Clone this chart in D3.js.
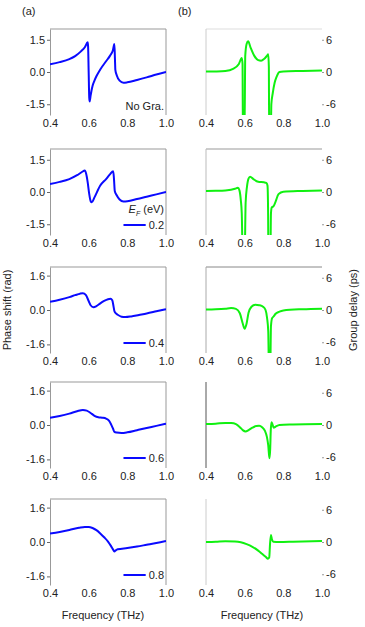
<!DOCTYPE html>
<html><head><meta charset="utf-8">
<script src="https://cdn.jsdelivr.net/npm/d3@7"></script>
<style>
html,body{margin:0;padding:0;background:#fff;}
svg{display:block;font-family:"Liberation Sans",Arial,sans-serif;}
</style></head>
<body><svg id="chart" width="365" height="627"></svg>
<script>
// ---------- data ----------
const xTicks = [0.4, 0.6, 0.8, 1.0];
const phaseTicksA = [-1.5, 0, 1.5];
const phaseTicksB = [-1.6, 0, 1.6];
const delayTicks = [-6, 0, 6];
const legendLabels = ["No Gra.", "0.2", "0.4", "0.6", "0.8"];

const phaseNoGra = [[0.40,0.36],[0.45,0.46],[0.50,0.60],[0.53,0.74],[0.56,0.96],[0.58,1.15],[0.595,1.38],[0.597,1.2],[0.600,0.0],[0.603,-1.2],[0.605,-1.37],[0.61,-1.1],[0.615,-0.85],[0.62,-0.65],[0.63,-0.4],[0.64,-0.2],[0.66,0.12],[0.69,0.5],[0.71,0.75],[0.725,1.0],[0.733,1.3],[0.736,0.6],[0.738,0.1],[0.745,-0.15],[0.76,-0.4],[0.78,-0.5],[0.80,-0.48],[0.85,-0.37],[0.90,-0.25],[0.95,-0.12],[1.00,0.0]];
const phase02 = [[0.40,0.375],[0.45,0.47],[0.50,0.60],[0.54,0.78],[0.565,0.93],[0.58,1.0],[0.587,0.85],[0.595,0.45],[0.603,-0.1],[0.61,-0.42],[0.616,-0.48],[0.63,-0.25],[0.66,0.3],[0.69,0.6],[0.71,0.82],[0.727,0.97],[0.731,0.6],[0.735,0.05],[0.745,-0.15],[0.76,-0.35],[0.78,-0.44],[0.80,-0.43],[0.85,-0.33],[0.90,-0.22],[0.95,-0.11],[1.00,0.0]];
const phase04 = [[0.40,0.385],[0.45,0.48],[0.50,0.60],[0.53,0.69],[0.555,0.76],[0.57,0.78],[0.585,0.70],[0.60,0.42],[0.61,0.22],[0.625,0.13],[0.64,0.18],[0.66,0.31],[0.68,0.42],[0.70,0.50],[0.713,0.52],[0.722,0.45],[0.728,0.2],[0.733,-0.05],[0.74,-0.15],[0.75,-0.22],[0.77,-0.31],[0.79,-0.33],[0.82,-0.30],[0.86,-0.23],[0.90,-0.16],[0.95,-0.06],[1.00,0.04]];
const phase06 = [[0.40,0.34],[0.45,0.42],[0.50,0.53],[0.54,0.64],[0.57,0.70],[0.59,0.67],[0.61,0.56],[0.63,0.43],[0.65,0.36],[0.67,0.34],[0.69,0.30],[0.705,0.20],[0.715,0.05],[0.725,-0.15],[0.733,-0.32],[0.745,-0.35],[0.77,-0.37],[0.80,-0.34],[0.85,-0.24],[0.90,-0.14],[0.95,-0.04],[1.00,0.06]];
const phase08 = [[0.40,0.39],[0.45,0.47],[0.50,0.56],[0.55,0.66],[0.58,0.70],[0.60,0.70],[0.62,0.65],[0.64,0.55],[0.66,0.40],[0.68,0.22],[0.70,0.02],[0.715,-0.18],[0.725,-0.33],[0.733,-0.44],[0.74,-0.39],[0.75,-0.34],[0.80,-0.28],[0.85,-0.21],[0.90,-0.13],[0.95,-0.05],[1.00,0.05]];

const delayNoGra = [[0.40,0.07],[0.45,0.1],[0.50,0.2],[0.54,0.6],[0.57,1.5],[0.585,2.6],[0.589,1.5],[0.591,-12],[0.599,-12],[0.603,3.0],[0.610,5.2],[0.618,5.7],[0.63,4.6],[0.65,3.0],[0.67,2.2],[0.685,2.1],[0.70,2.4],[0.715,3.0],[0.722,3.3],[0.725,1],[0.727,-12],[0.735,-12],[0.738,-6],[0.745,-4],[0.755,-2],[0.765,-0.9],[0.78,0.0],[0.80,0.1],[0.90,0.2],[1.00,0.3]];
const delay02 = [[0.40,0.19],[0.45,0.22],[0.50,0.3],[0.55,0.6],[0.565,0.8],[0.573,0.3],[0.580,-1.5],[0.585,-4],[0.590,-12],[0.600,-12],[0.605,-2],[0.612,1.0],[0.62,2.5],[0.628,2.85],[0.645,2.4],[0.67,1.9],[0.70,1.8],[0.712,1.7],[0.718,1.2],[0.721,-3],[0.723,-12],[0.733,-12],[0.736,-4],[0.74,-2.9],[0.75,-2.6],[0.76,-1.8],[0.775,-0.4],[0.80,0.05],[0.90,0.2],[1.00,0.3]];
const delay04 = [[0.40,0.1],[0.45,0.15],[0.50,0.25],[0.53,0.35],[0.555,0.2],[0.575,-0.6],[0.59,-2.5],[0.60,-3.5],[0.61,-2.5],[0.62,-0.5],[0.635,0.6],[0.655,1.0],[0.675,0.9],[0.695,0.6],[0.708,0],[0.716,-1.5],[0.722,-4],[0.726,-12],[0.732,-12],[0.736,-3],[0.742,-1.5],[0.75,-1.2],[0.76,-0.7],[0.78,-0.3],[0.80,-0.1],[0.90,0.15],[1.00,0.25]];
const delay06 = [[0.40,0.19],[0.45,0.25],[0.50,0.38],[0.53,0.35],[0.555,0.15],[0.575,-0.4],[0.59,-0.95],[0.605,-1.2],[0.62,-0.95],[0.64,-0.5],[0.66,-0.2],[0.675,-0.15],[0.69,-0.4],[0.705,-1.1],[0.715,-2.2],[0.722,-3.8],[0.728,-6.2],[0.732,-4.5],[0.735,-1],[0.739,0.5],[0.743,0.2],[0.75,-0.5],[0.76,-0.3],[0.78,0.0],[0.85,0.1],[1.00,0.19]];
const delay08 = [[0.40,0.0],[0.45,0.05],[0.50,0.15],[0.55,0.1],[0.58,-0.05],[0.61,-0.4],[0.64,-0.9],[0.67,-1.6],[0.69,-2.2],[0.71,-2.8],[0.72,-3.1],[0.727,-2.9],[0.731,-0.5],[0.736,1.3],[0.741,0.5],[0.748,0.06],[0.78,0.0],[0.85,0.05],[1.00,0.19]];

const phaseSeries = [phaseNoGra, phase02, phase04, phase06, phase08];
const delaySeries = [delayNoGra, delay02, delay04, delay06, delay08];

// ---------- layout / style ----------
const rowTops = [29, 149, 267, 382, 499];
const H = 86;
const leftX = [50, 166];
const rightX = [206, 322];
const rightBorder = [
  {left:"#ccc", top:"#ddd"}, {left:"#bbb", top:"#999"}, {left:"#aaa", top:"#888"},
  {left:"#555", top:null}, {left:"#ccc", top:null}
];
const fmt = v => d3.format(".1f")(v).replace("\u2212","-");
const fmtInt = v => d3.format("d")(v).replace("\u2212","-");

const svg = d3.select("#chart");
svg.append("rect").attr("width",365).attr("height",627).attr("fill","#fff");
const defs = svg.append("defs");

const xL = d3.scaleLinear().domain([0.4,1.0]).range(leftX);
const xR = d3.scaleLinear().domain([0.4,1.0]).range(rightX);

function styleAxis(g, lineColor){
  g.selectAll("text").attr("fill","#222").style("font-size","11px").style("font-family","'Liberation Sans',Arial,sans-serif");
  g.selectAll("line").attr("stroke","#666");
  g.select(".domain").attr("stroke", lineColor);
}

rowTops.forEach((top, i) => {
  const bottom = top + H;
  const yP = d3.scaleLinear().domain([-2,2]).range([bottom, top]);
  const yD = d3.scaleLinear().domain([-8,8]).range([bottom, top]);

  // ----- left panel -----
  const gL = svg.append("g");
  gL.append("line").attr("x1",leftX[0]).attr("x2",leftX[1]).attr("y1",top).attr("y2",top).attr("stroke","#999");
  gL.append("line").attr("x1",leftX[1]).attr("x2",leftX[1]).attr("y1",top).attr("y2",bottom).attr("stroke","#999");
  const ay = gL.append("g").attr("transform",`translate(${leftX[0]},0)`)
    .call(d3.axisLeft(yP).tickValues(i<2?phaseTicksA:phaseTicksB).tickFormat(fmt).tickSize(3).tickSizeOuter(0).tickPadding(2));
  styleAxis(ay, "#999");
  const ax = gL.append("g").attr("transform",`translate(0,${bottom})`)
    .call(d3.axisBottom(xL).tickValues(xTicks).tickFormat(fmt).tickSize(0).tickPadding(4));
  styleAxis(ax, "none");
  ax.select(".domain").remove();

  const cidL = "clipL"+i;
  defs.append("clipPath").attr("id",cidL).append("rect").attr("x",leftX[0]).attr("y",top).attr("width",leftX[1]-leftX[0]).attr("height",H);
  const lineL = d3.line().x(d=>xL(d[0])).y(d=>yP(d[1])).curve(d3.curveMonotoneX);
  gL.append("path").datum(phaseSeries[i]).attr("clip-path",`url(#${cidL})`)
    .attr("d",lineL).attr("fill","none").attr("stroke","#0a0aff").attr("stroke-width",2).attr("stroke-linejoin","round");

  // legend
  if (i === 0) {
    gL.append("text").attr("x",leftX[1]-2).attr("y",bottom-5).attr("text-anchor","end")
      .attr("fill","#222").style("font-size","11px").text(legendLabels[0]);
  } else {
    const ly = bottom - 10;
    gL.append("line").attr("x1",xL(0.78)).attr("x2",xL(0.895)).attr("y1",ly).attr("y2",ly)
      .attr("stroke","#0a0aff").attr("stroke-width",2);
    gL.append("text").attr("x",leftX[1]-2).attr("y",ly+4).attr("text-anchor","end")
      .attr("fill","#222").style("font-size","11px").text(legendLabels[i]);
    if (i === 1) {
      const t = gL.append("text").attr("x",leftX[1]-2).attr("y",ly-12).attr("text-anchor","end")
        .attr("fill","#222").style("font-size","11px");
      t.append("tspan").attr("font-style","italic").text("E");
      t.append("tspan").attr("font-style","italic").attr("dy",3).style("font-size","7px").text("F");
      t.append("tspan").attr("dy",-3).text(" (eV)");
    }
  }

  // ----- right panel -----
  const gR = svg.append("g");
  const bs = rightBorder[i];
  if (bs.top) gR.append("line").attr("x1",rightX[0]).attr("x2",rightX[1]).attr("y1",top).attr("y2",top).attr("stroke",bs.top);
  gR.append("line").attr("x1",rightX[0]).attr("x2",rightX[0]).attr("y1",top).attr("y2",bottom).attr("stroke",bs.left);
  const ary = gR.append("g").attr("transform",`translate(${rightX[1]},0)`)
    .call(d3.axisRight(yD).tickValues(delayTicks).tickFormat(fmtInt).tickSize(2).tickSizeOuter(0).tickPadding(2));
  styleAxis(ary, "none");
  ary.select(".domain").remove();
  ary.selectAll("line").attr("stroke","#999");
  const arx = gR.append("g").attr("transform",`translate(0,${bottom})`)
    .call(d3.axisBottom(xR).tickValues(xTicks).tickFormat(fmt).tickSize(0).tickPadding(4));
  styleAxis(arx, "none");
  arx.select(".domain").remove();

  const cidR = "clipR"+i;
  defs.append("clipPath").attr("id",cidR).append("rect").attr("x",rightX[0]).attr("y",top).attr("width",rightX[1]-rightX[0]).attr("height",H);
  const lineR = d3.line().x(d=>xR(d[0])).y(d=>yD(d[1])).curve(d3.curveMonotoneX);
  gR.append("path").datum(delaySeries[i]).attr("clip-path",`url(#${cidR})`)
    .attr("d",lineR).attr("fill","none").attr("stroke","#10f010").attr("stroke-width",2).attr("stroke-linejoin","round");
});

// ---------- titles ----------
const txt = (x,y,s,anchor="middle") => svg.append("text").attr("x",x).attr("y",y).attr("text-anchor",anchor)
  .attr("fill","#222").style("font-size","11px").text(s);
txt(22,15,"(a)","start");
txt(178,15,"(b)","start");
txt(103,619,"Frequency (THz)");
txt(262,619,"Frequency (THz)");
svg.append("text").attr("transform","translate(11,310) rotate(-90)").attr("text-anchor","middle")
  .attr("fill","#222").style("font-size","11px").text("Phase shift (rad)");
svg.append("text").attr("transform","translate(357,310) rotate(-90)").attr("text-anchor","middle")
  .attr("fill","#222").style("font-size","11px").text("Group delay (ps)");
</script>
</body></html>
